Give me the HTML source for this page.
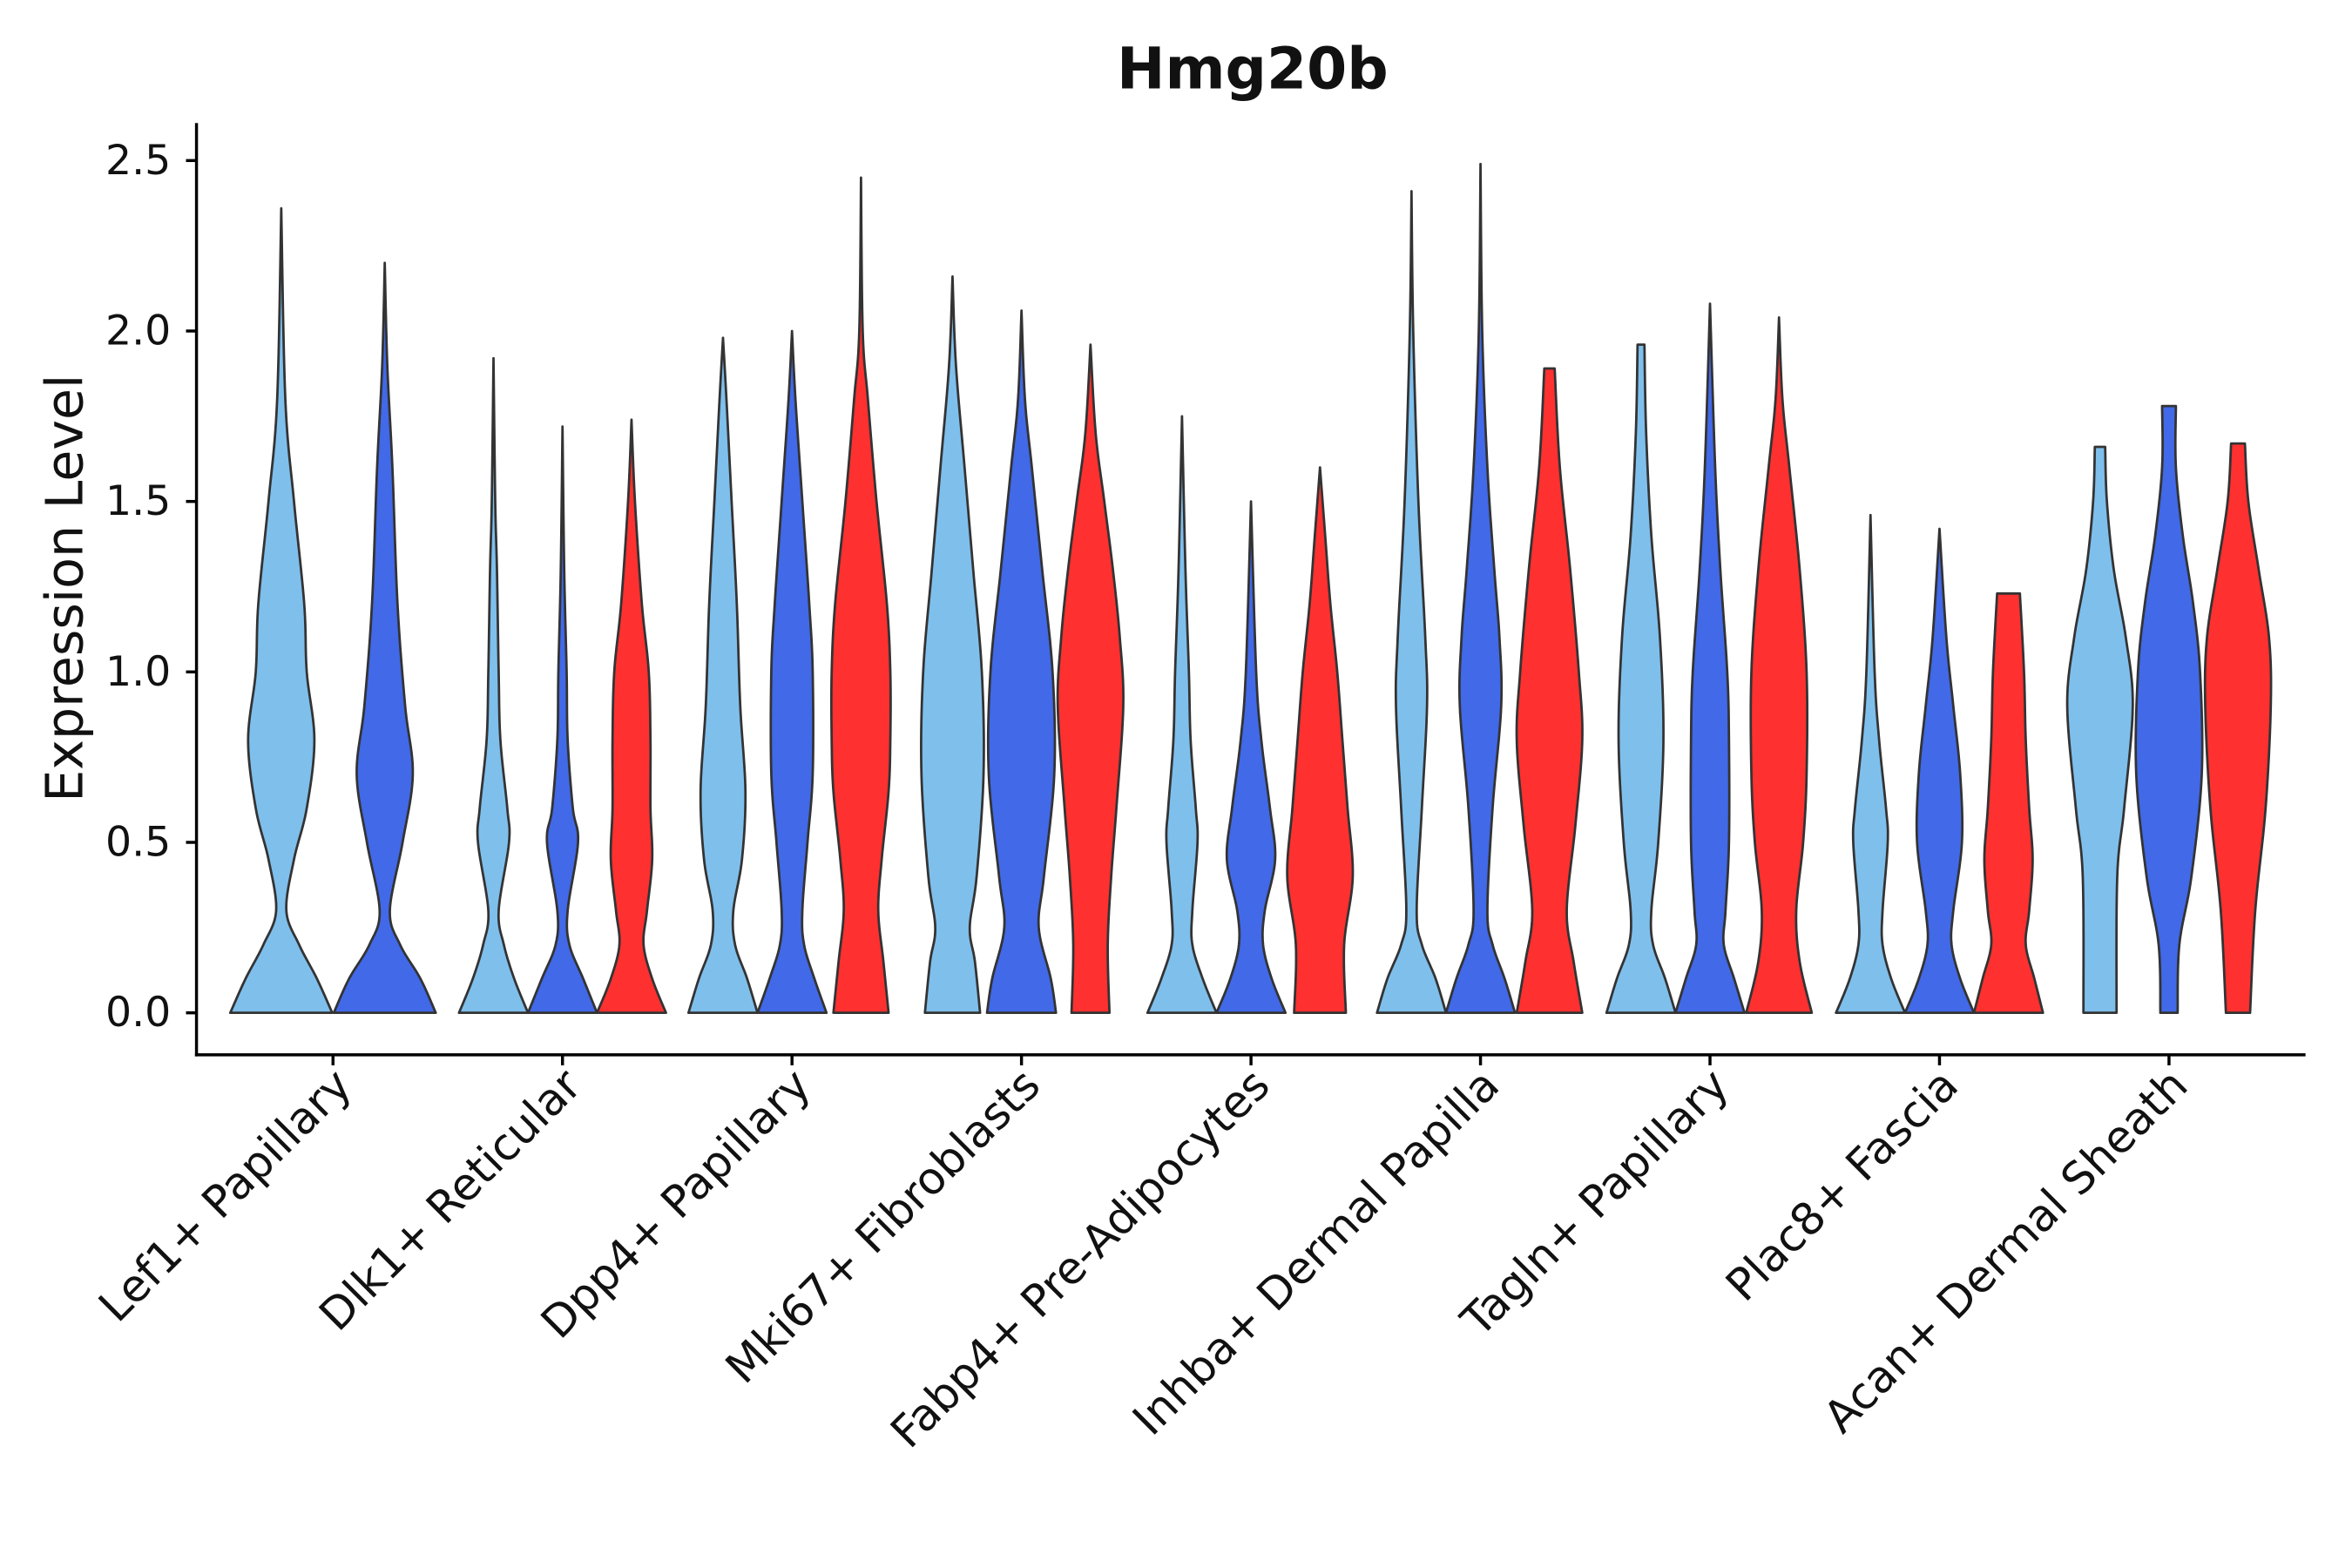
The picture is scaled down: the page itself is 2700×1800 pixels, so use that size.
<!DOCTYPE html>
<html><head><meta charset="utf-8"><style>
html,body{margin:0;padding:0;background:#fff}
svg{display:block}
text{font-family:"DejaVu Sans","Liberation Sans",sans-serif;fill:#111}
</style></head><body>
<svg id="chart" width="2700" height="1800" viewBox="0 0 1568 1045" preserveAspectRatio="none" xmlns="http://www.w3.org/2000/svg">
<rect width="1568" height="1045" fill="#fff"/>
<text x="835" y="59" text-anchor="middle" font-size="38.5" font-weight="bold">Hmg20b</text>
<text transform="translate(55,392) rotate(-90)" text-anchor="middle" font-size="34">Expression Level</text>
<g id="violins"></g>
<g id="axes"></g>
</svg>
<script>
const categories=["Lef1+ Papillary","Dlk1+ Reticular","Dpp4+ Papillary","Mki67+ Fibroblasts","Fabp4+ Pre-Adipocytes","Inhba+ Dermal Papilla","Tagln+ Papillary","Plac8+ Fascia","Acan+ Dermal Sheath"];
const yTicks=[0,0.5,1.0,1.5,2.0,2.5];
const yTickLabels=["0.0","0.5","1.0","1.5","2.0","2.5"];
const seriesNames=["light","blue","red"];
const seriesColors=["#7fbfec","#4169e8","#ff3030"];
// each violin: [categoryIndex, seriesIndex, [[value, relativeHalfWidth], ...]]
const violinData=[
[0,0,[[0,1],[0.1,0.7],[0.2,0.35],[0.3,0.1],[0.45,0.25],[0.6,0.5],[0.8,0.65],[1.0,0.5],[1.2,0.45],[1.5,0.25],[1.8,0.08],[2.36,0]]],
[0,1,[[0,1],[0.1,0.7],[0.2,0.3],[0.3,0.1],[0.5,0.35],[0.7,0.55],[0.9,0.4],[1.2,0.25],[1.6,0.15],[1.9,0.05],[2.2,0]]],
[1,0,[[0,1],[0.1,0.6],[0.2,0.3],[0.3,0.15],[0.5,0.45],[0.6,0.4],[0.8,0.2],[1.0,0.15],[1.3,0.1],[1.5,0.05],[1.92,0]]],
[1,1,[[0,1],[0.1,0.6],[0.2,0.2],[0.3,0.15],[0.5,0.45],[0.6,0.3],[0.8,0.15],[1.0,0.12],[1.3,0.05],[1.72,0]]],
[1,2,[[0,1],[0.1,0.6],[0.2,0.35],[0.3,0.45],[0.45,0.6],[0.6,0.55],[0.8,0.55],[1.0,0.5],[1.2,0.3],[1.5,0.1],[1.74,0]]],
[2,0,[[0,1],[0.1,0.7],[0.2,0.35],[0.3,0.3],[0.45,0.55],[0.65,0.65],[0.9,0.5],[1.2,0.4],[1.5,0.25],[1.8,0.1],[1.98,0]]],
[2,1,[[0,1],[0.1,0.65],[0.2,0.35],[0.3,0.3],[0.5,0.45],[0.7,0.6],[1.0,0.6],[1.2,0.5],[1.5,0.3],[1.8,0.1],[2.0,0]]],
[2,2,[[0,0.8],[0.15,0.65],[0.3,0.5],[0.45,0.6],[0.65,0.8],[0.8,0.85],[1.0,0.85],[1.2,0.75],[1.5,0.45],[1.8,0.2],[2.0,0.05],[2.45,0]]],
[3,0,[[0,0.8],[0.15,0.65],[0.25,0.5],[0.4,0.7],[0.7,0.9],[1.0,0.85],[1.3,0.6],[1.6,0.35],[1.9,0.1],[2.16,0]]],
[3,1,[[0,1],[0.1,0.85],[0.25,0.5],[0.4,0.65],[0.7,0.95],[1.0,0.9],[1.3,0.6],[1.6,0.3],[1.8,0.1],[2.06,0]]],
[3,2,[[0,0.55],[0.2,0.5],[0.4,0.6],[0.6,0.75],[0.9,0.95],[1.1,0.85],[1.3,0.65],[1.5,0.4],[1.7,0.15],[1.96,0]]],
[4,0,[[0,1],[0.1,0.6],[0.2,0.3],[0.3,0.3],[0.5,0.45],[0.6,0.4],[0.8,0.25],[1.0,0.2],[1.3,0.1],[1.75,0]]],
[4,1,[[0,1],[0.1,0.6],[0.2,0.35],[0.3,0.4],[0.45,0.7],[0.6,0.55],[0.8,0.3],[1.0,0.15],[1.5,0]]],
[4,2,[[0,0.75],[0.2,0.7],[0.4,0.95],[0.6,0.8],[0.8,0.65],[1.0,0.5],[1.2,0.3],[1.4,0.15],[1.6,0]]],
[5,0,[[0,1],[0.1,0.7],[0.2,0.3],[0.3,0.15],[0.6,0.3],[0.9,0.45],[1.1,0.4],[1.5,0.2],[2.0,0.05],[2.41,0]]],
[5,1,[[0,1],[0.1,0.7],[0.2,0.35],[0.3,0.2],[0.6,0.35],[0.9,0.6],[1.1,0.55],[1.3,0.4],[1.6,0.2],[2.0,0.05],[2.49,0]]],
[5,2,[[0,0.95],[0.15,0.7],[0.3,0.5],[0.55,0.75],[0.8,0.95],[1.0,0.85],[1.3,0.6],[1.6,0.3],[1.89,0.15]]],
[6,0,[[0,1],[0.1,0.7],[0.2,0.35],[0.3,0.3],[0.5,0.5],[0.8,0.65],[1.1,0.55],[1.4,0.3],[1.7,0.15],[1.96,0.1]]],
[6,1,[[0,1],[0.1,0.7],[0.2,0.4],[0.3,0.45],[0.5,0.55],[0.8,0.55],[1.0,0.5],[1.3,0.3],[1.6,0.15],[2.08,0]]],
[6,2,[[0,0.95],[0.15,0.6],[0.3,0.5],[0.5,0.7],[0.7,0.8],[1.0,0.8],[1.3,0.6],[1.6,0.3],[1.8,0.1],[2.04,0]]],
[7,0,[[0,1],[0.1,0.6],[0.2,0.35],[0.3,0.35],[0.5,0.5],[0.6,0.45],[0.8,0.25],[1.0,0.12],[1.46,0]]],
[7,1,[[0,1],[0.1,0.6],[0.2,0.35],[0.3,0.4],[0.5,0.65],[0.7,0.6],[0.9,0.4],[1.1,0.2],[1.42,0]]],
[7,2,[[0,1],[0.1,0.75],[0.2,0.5],[0.3,0.6],[0.45,0.7],[0.6,0.6],[0.8,0.5],[1.0,0.45],[1.23,0.33]]],
[8,0,[[0,0.48],[0.4,0.5],[0.6,0.7],[0.9,0.95],[1.1,0.75],[1.3,0.4],[1.5,0.2],[1.66,0.15]]],
[8,1,[[0,0.25],[0.2,0.3],[0.4,0.65],[0.7,0.95],[1.0,0.9],[1.2,0.7],[1.4,0.4],[1.6,0.2],[1.78,0.2]]],
[8,2,[[0,0.35],[0.3,0.5],[0.6,0.8],[0.9,0.95],[1.1,0.9],[1.3,0.6],[1.5,0.3],[1.67,0.2]]]
];
const NS="http://www.w3.org/2000/svg";
const xL=131,xR=1537,yAxis=703;
function yScale(v){return 675-v*227.2;}
function xCat(i){return 222+i*153.0;}
function seriesCount(ci){return violinData.filter(d=>d[0]===ci).length;}
function xViolin(ci,si){const n=seriesCount(ci);if(n===2)return xCat(ci)+(si===0?-34.5:34.5);return xCat(ci)+(si-1)*46;}
function halfW(ci){return seriesCount(ci)===2?34:23;}
function smooth(pts,steps){const out=[];for(let i=0;i<pts.length-1;i++){const p0=pts[Math.max(0,i-1)],p1=pts[i],p2=pts[i+1],p3=pts[Math.min(pts.length-1,i+2)];for(let s=0;s<steps;s++){const t=s/steps,t2=t*t,t3=t2*t;const f=(a,b,c,d)=>0.5*((2*b)+(-a+c)*t+(2*a-5*b+4*c-d)*t2+(-a+3*b-3*c+d)*t3);out.push([f(p0[0],p1[0],p2[0],p3[0]),Math.max(0,f(p0[1],p1[1],p2[1],p3[1]))]);}}out.push(pts[pts.length-1]);return out;}
const vg=document.getElementById('violins');
violinData.forEach(d=>{
  const [ci,si,prof]=d;const cx=xViolin(ci,si),hw=halfW(ci);
  const sm=smooth(prof,12);
  const right=sm.map(p=>[cx+p[1]*hw,yScale(p[0])]);
  const left=sm.slice().reverse().map(p=>[cx-p[1]*hw,yScale(p[0])]);
  const all=right.concat(left);
  const path=document.createElementNS(NS,'path');
  path.setAttribute('d','M'+all.map(p=>p[0].toFixed(2)+','+p[1].toFixed(2)).join('L')+'Z');
  path.setAttribute('fill',seriesColors[si]);path.setAttribute('stroke','#333');path.setAttribute('stroke-width','1.6');path.setAttribute('stroke-linejoin','round');
  
  
  vg.appendChild(path);
});
const ag=document.getElementById('axes');
function line(x1,y1,x2,y2,name){const l=document.createElementNS(NS,'line');l.setAttribute('x1',x1);l.setAttribute('y1',y1);l.setAttribute('x2',x2);l.setAttribute('y2',y2);l.setAttribute('stroke','#000');l.setAttribute('stroke-width','2');


ag.appendChild(l);}
line(xL,82,xL,yAxis+1,'y-axis-line');
line(xL-1,yAxis,xR,yAxis,'x-axis-line');
yTicks.forEach((v,i)=>{const y=yScale(v);line(xL-7,y,xL,y,'y-tick');
 const t=document.createElementNS(NS,'text');t.setAttribute('x',xL-17);t.setAttribute('y',y+9);t.setAttribute('text-anchor','end');t.setAttribute('font-size','27.5');t.textContent=yTickLabels[i];
 
 
 ag.appendChild(t);});
categories.forEach((c,i)=>{const x=xCat(i);line(x,yAxis,x,yAxis+7,'x-tick');
 const t=document.createElementNS(NS,'text');t.setAttribute('transform','translate('+(x+14)+','+(yAxis+22)+') rotate(-45)');t.setAttribute('text-anchor','end');t.setAttribute('font-size','29.5');t.textContent=c;
 
 
 ag.appendChild(t);});
</script>
</body></html>
